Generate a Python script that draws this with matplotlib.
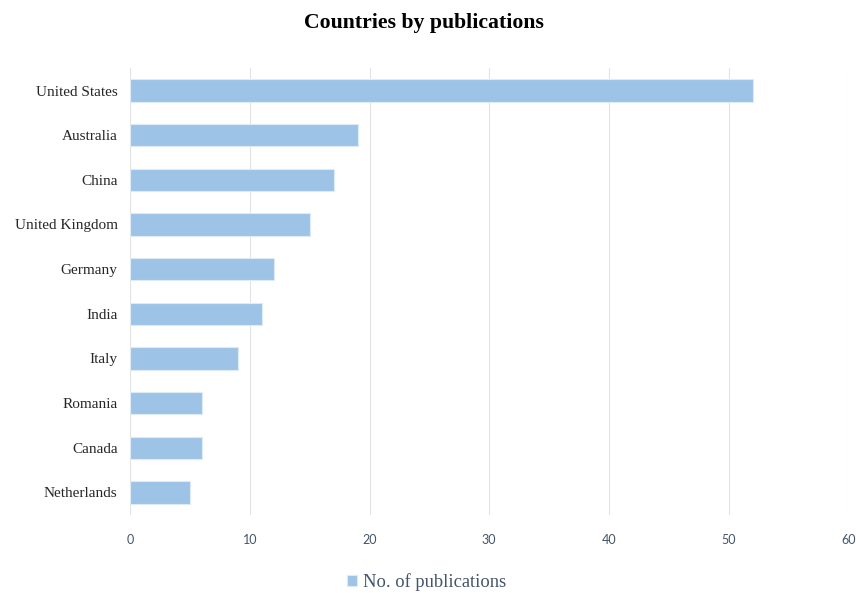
import matplotlib.pyplot as plt

countries = ["United States", "Australia", "China", "United Kingdom", "Germany",
             "India", "Italy", "Romania", "Canada", "Netherlands"]
publications = [52, 19, 17, 15, 12, 11, 9, 6, 6, 5]
x_ticks = [0, 10, 20, 30, 40, 50, 60]

fig = plt.figure(figsize=(8.56, 5.93), dpi=100)
ax = fig.add_axes([0.152, 0.132, 0.839, 0.753])

pos = list(range(len(countries)))
ax.barh(pos, publications, height=0.5, color="#9DC3E6", edgecolor="#DEEBF7",
        linewidth=0.8, label="No. of publications", zorder=3)
ax.set_ylim(len(countries) - 0.5, -0.5)
ax.set_xlim(0, 60)
ax.set_xticks(x_ticks)
ax.set_yticks(pos)
ax.set_yticklabels(countries, fontfamily="Liberation Serif", fontsize=11, color="#262626")
for lab in ax.get_xticklabels():
    lab.set_fontfamily("Lato")
    lab.set_fontsize(9)
    lab.set_color("#44546A")
ax.tick_params(axis="y", length=0, pad=9)
ax.tick_params(axis="x", length=0, pad=14)
ax.grid(axis="x", color="#E3E3E3", linewidth=0.8, zorder=0)
for s in ax.spines.values():
    s.set_visible(False)

fig.suptitle("Countries by publications", x=0.495, y=0.978, fontfamily="Liberation Serif",
             fontweight="bold", fontsize=15.7)

leg = fig.legend(loc="center", bbox_to_anchor=(0.498, 1 - 582 / 593), frameon=False,
                 prop={"family": "Liberation Serif", "size": 13.3},
                 handlelength=0.55, handleheight=0.55, handletextpad=0.3)
for t in leg.get_texts():
    t.set_color("#44546A")

fig.savefig("out.png", dpi=100)
